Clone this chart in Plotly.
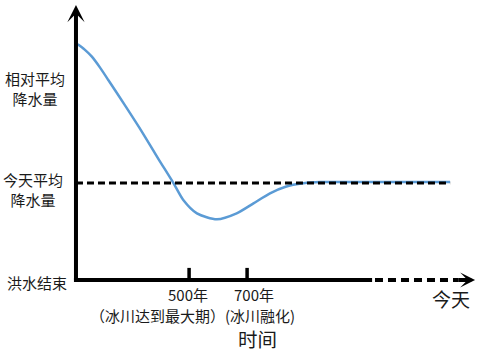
import plotly.graph_objects as go

# ---- data (schematic) ----
years = [116, 140, 164, 193, 222, 279, 337, 394, 446, 480, 527, 596, 664, 722, 779, 833, 894, 952, 1100, 1400]
precip = [2.43, 2.375, 2.305, 2.19, 2.06, 1.80, 1.53, 1.25, 1.0, 0.825, 0.687, 0.626, 0.687, 0.79, 0.894, 0.962, 0.997, 1.01, 1.01, 1.01]

tick_years = [500, 700]
tick_year_labels = ["500年", "700年"]
tick_event_labels = ["（冰川达到最大期）", "(冰川融化)"]

today_level = 1.0
flood_end_level = 0.0
y_top = 2.835

t_origin = 110
t_solid_end = 1131
t_dash_end = 1430
t_tip = 1486
t_today_line_end = 1400

FONT = "Noto Sans CJK SC"
TXT = "#1a1a1a"
BLUE = "#5b9bd5"

fig = go.Figure()

fig.add_trace(go.Scatter(
    x=years, y=precip, mode="lines",
    line=dict(color=BLUE, width=2.5, shape="spline", smoothing=0.7),
    hoverinfo="skip", showlegend=False,
))

shapes = []
# today level dashed line
shapes.append(dict(type="line", xref="x", yref="y", x0=t_origin, x1=t_today_line_end,
                   y0=today_level, y1=today_level,
                   line=dict(color="black", width=3, dash="7px,4px")))
# x axis solid and dashed parts
shapes.append(dict(type="line", xref="x", yref="y", x0=t_origin - 7, x1=t_solid_end,
                   y0=flood_end_level, y1=flood_end_level,
                   line=dict(color="black", width=4)))
shapes.append(dict(type="line", xref="x", yref="y", x0=t_solid_end + 10, x1=t_dash_end,
                   y0=flood_end_level, y1=flood_end_level,
                   line=dict(color="black", width=4, dash="8px,5px")))
# ticks
for t in tick_years:
    shapes.append(dict(type="line", xref="x", yref="y", x0=t, x1=t,
                       y0=flood_end_level, y1=flood_end_level + 0.125,
                       line=dict(color="black", width=3.5)))

annotations = []
# y axis with arrow
annotations.append(dict(x=t_origin, y=y_top, ax=t_origin, ay=flood_end_level - 0.02,
                        xref="x", yref="y", axref="x", ayref="y", text="",
                        showarrow=True, arrowhead=3, arrowsize=0.72, arrowwidth=4,
                        arrowcolor="black"))
# x axis arrow head
annotations.append(dict(x=t_tip, y=flood_end_level, ax=t_dash_end - 5, ay=flood_end_level,
                        xref="x", yref="y", axref="x", ayref="y", text="",
                        showarrow=True, arrowhead=3, arrowsize=0.62, arrowwidth=4,
                        arrowcolor="black"))


def label(text, x, y, xshift, yshift, size=15):
    annotations.append(dict(x=x, y=y, xref="x", yref="y", text=text, showarrow=False,
                            xanchor="center", yanchor="middle", align="center",
                            xshift=xshift, yshift=yshift, borderpad=0,
                            font=dict(family=FONT, size=size, color=TXT)))


# y axis labels
label("相对平均<br>降水量", t_origin, 1.964, -41, 1)
label("今天平均<br>降水量", t_origin, today_level, -43, -6)
label("洪水结束", t_origin, flood_end_level, -39, -2)

# x tick labels
label(tick_year_labels[0], tick_years[0], flood_end_level, -1, -14.5)
label(tick_event_labels[0], tick_years[0], flood_end_level, -32, -35)
label(tick_year_labels[1], tick_years[1], flood_end_level, 7, -14.5)
label(tick_event_labels[1], tick_years[1], flood_end_level, 13, -35)

label("时间", tick_years[1], flood_end_level, 10, -58, size=19.5)
label("今天", t_tip, flood_end_level, -24, -18, size=19)

fig.update_layout(
    width=482, height=355,
    margin=dict(l=0, r=0, t=0, b=0),
    paper_bgcolor="white", plot_bgcolor="white",
    xaxis=dict(range=[-152, 1510], visible=False, fixedrange=True),
    yaxis=dict(range=[-0.773, 2.887], visible=False, fixedrange=True),
    shapes=shapes,
    annotations=annotations,
    showlegend=False,
)

fig.write_html("out.html", config={"displayModeBar": False})
